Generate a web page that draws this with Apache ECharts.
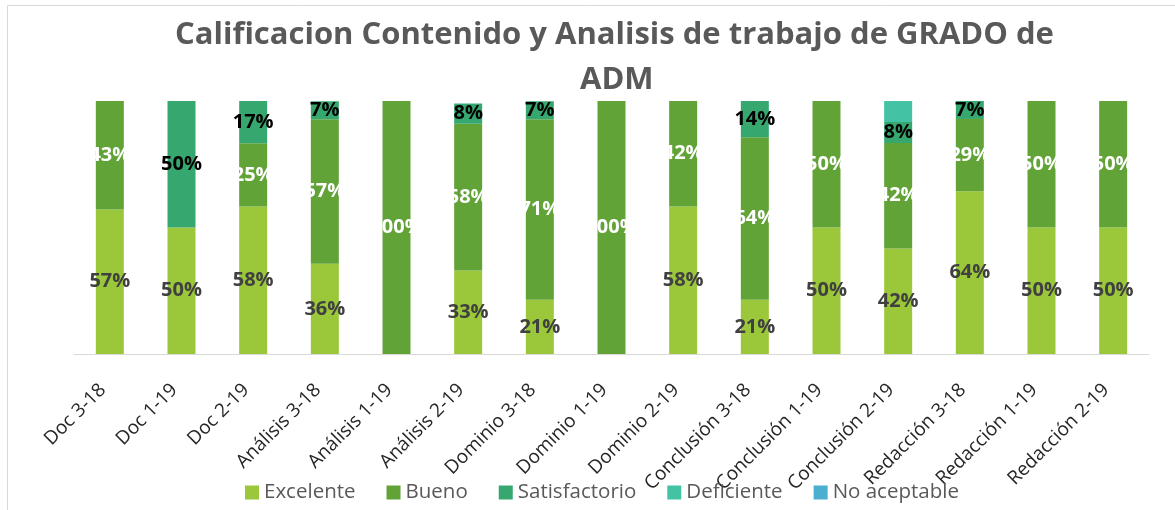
<!DOCTYPE html>
<html>
<head>
<meta charset="utf-8">
<script src="https://cdn.jsdelivr.net/npm/echarts@6/dist/echarts.min.js"></script>
<style>
  html, body { margin: 0; padding: 0; background: #fff; }
  #chart { width: 1175px; height: 510px; }
</style>
</head>
<body>
<div id="chart"></div>
<script>
// categorias del eje x
const categorias = ['Doc 3-18', 'Doc 1-19', 'Doc 2-19', 'Análisis 3-18', 'Análisis 1-19', 'Análisis 2-19',
  'Dominio 3-18', 'Dominio 1-19', 'Dominio 2-19', 'Conclusión 3-18', 'Conclusión 1-19', 'Conclusión 2-19',
  'Redacción 3-18', 'Redacción 1-19', 'Redacción 2-19'];

// porcentajes por nivel (null = sin dato)
const excelente     = [57.1, 50, 58.3, 35.7, null, 33, 21.4, null, 58.3, 21.4, 50, 41.7, 64.3, 50, 50];
const bueno         = [42.9, null, 25, 57.1, 100, 58, 71.4, 100, 41.7, 64.3, 50, 41.7, 28.6, 50, 50];
const satisfactorio = [null, 50, 16.7, 7.1, null, 8, 7.1, null, null, 14.3, null, 8.3, 7.1, null, null];
const deficiente    = [null, null, null, null, null, null, null, null, null, null, null, 8.3, null, null, null];
const noAceptable   = [null, null, null, null, null, null, null, null, null, null, null, null, null, null, null];

const fuente = 'Open Sans';

const estiloTitulo = {
  fontFamily: fuente,
  fontWeight: 'bold',
  fontSize: 31,
  color: '#595959'
};

function serie(name, data, color, labelColor) {
  return {
    name: name,
    type: 'bar',
    stack: 'total',
    data: data,
    barWidth: 28,
    itemStyle: { color: color },
    label: {
      show: labelColor != null,
      position: 'inside',
      color: labelColor || '#000',
      fontFamily: fuente,
      fontWeight: 'bold',
      fontSize: 20,
      formatter: p => (p.value == null ? '' : Math.round(p.value) + '%')
    }
  };
}

const chart = echarts.init(document.getElementById('chart'));
chart.setOption({
  animation: false,
  backgroundColor: '#fff',
  // el titulo va en dos lineas, centradas un poco a la derecha como en el original
  title: [
    { text: 'Calificacion Contenido y Analisis de trabajo de GRADO de', left: 170, top: 15, textStyle: estiloTitulo },
    { text: 'ADM', left: 575, top: 60, textStyle: estiloTitulo }
  ],
  graphic: [{
    type: 'rect',
    shape: { x: 7.5, y: 5.5, width: 1200, height: 540 },
    style: { fill: 'none', stroke: '#d9d9d9', lineWidth: 1 },
    silent: true
  }],
  legend: {
    top: 477,
    left: 240,
    itemWidth: 14,
    itemHeight: 14,
    itemGap: 31,
    icon: 'rect',
    textStyle: { fontFamily: fuente, fontSize: 20.5, color: '#595959' },
    data: ['Excelente', 'Bueno', 'Satisfactorio', 'Deficiente', 'No aceptable']
  },
  grid: { left: 74, right: 26, top: 101, bottom: 156 },
  xAxis: {
    type: 'category',
    data: categorias,
    axisLine: { lineStyle: { color: '#d9d9d9', width: 1 } },
    axisTick: { show: false },
    axisLabel: {
      rotate: 45,
      interval: 0,
      margin: 26,
      padding: [0, 10, 0, 0],
      fontFamily: fuente,
      fontSize: 19,
      color: '#262626'
    }
  },
  yAxis: {
    type: 'value',
    min: 0,
    max: 100,
    show: false,
    splitLine: { show: false }
  },
  series: [
    serie('Excelente', excelente, '#9bc83a', '#404040'),
    serie('Bueno', bueno, '#62a337', '#ffffff'),
    serie('Satisfactorio', satisfactorio, '#36a86f', '#000000'),
    serie('Deficiente', deficiente, '#44c2a4', null),
    serie('No aceptable', noAceptable, '#4bafd0', null)
  ]
});
</script>
</body>
</html>
